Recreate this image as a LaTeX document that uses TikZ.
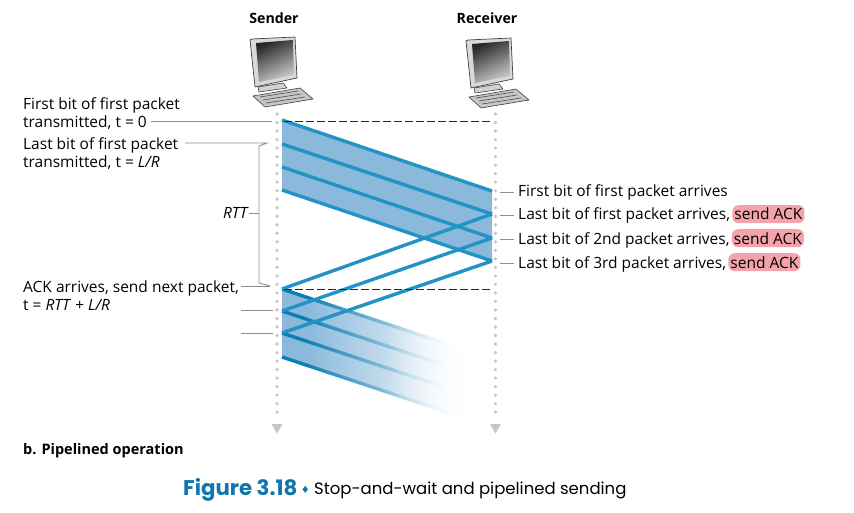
\documentclass[tikz,border=0pt]{standalone}
\usepackage{fontspec}
\setmainfont{Open Sans}
\newfontfamily\capfont{Poppins}
\newfontfamily\symfont{DejaVu Sans}
\usetikzlibrary{positioning, fadings}
\definecolor{bandblue}{HTML}{8AB9DC}
\definecolor{linkblue}{HTML}{2193C4}
\definecolor{deepblue}{HTML}{0C7DB5}
\definecolor{dotgray}{HTML}{C4C6C8}
\definecolor{tickgray}{HTML}{8C8E90}
\definecolor{ackpink}{HTML}{F4A3AA}
\definecolor{capblue}{HTML}{0F76AE}
\tikzfading[name=fadeout, left color=transparent!100, right color=transparent!0]
\tikzset{
timeline/.style={dotgray, line width=3.6pt, line cap=round, dash pattern=on 0pt off 8.52pt},
tickline/.style={tickgray, line width=0.9pt},
textlabel/.style={inner sep=0pt, anchor=west, align=left, font=\fontsize{15.5}{18}\selectfont},
arrlabel/.style={inner sep=0pt, anchor=base west, font=\fontsize{15.5}{18}\selectfont},
ack/.style={fill=ackpink, rounded corners=6pt, inner xsep=2pt, inner ysep=3pt, font=\fontsize{15.5}{18}\selectfont},
headlabel/.style={font=\bfseries\fontsize{14.2}{17}\selectfont},
packet/.style={linkblue, line width=3.4pt},
computer/.pic={
  \filldraw[fill=gray!45, draw=black!75, line width=0.6pt] (-24,96) -- (23,88) -- (36,99) -- (-12,107) -- cycle; % keyboard
  \draw[black!70, line width=0.6pt] (-17,97) -- (21,91) (-14,100) -- (24,94) (-11,103) -- (28,97);
  \filldraw[fill=gray!35, draw=black!75, line width=0.6pt] (-19,87) -- (-18,92) -- (10,88) -- (6,83) -- cycle; % stand
  \filldraw[fill=gray!30, draw=black!75, line width=0.7pt] (-27,40) -- (-25,39) -- (18,37) -- (20,78) -- (-22,87) -- cycle; % monitor
  \shade[left color=black!85, middle color=black!50, right color=black!20, shading angle=25] (-21,43) -- (16,40) -- (17,75) -- (-18,82) -- cycle;
},
}

\begin{document}
\begin{tikzpicture}[x=1pt, y=-1pt]
  \useasboundingbox (0,0) rectangle (854,513);

  % end points of the first window
  \coordinate (s0) at (282,120);
  \coordinate (s1) at (282,144);
  \coordinate (s2) at (282,167);
  \coordinate (s3) at (282,190);
  \coordinate (r0) at (492,191);
  \coordinate (r1) at (492,214);
  \coordinate (r2) at (492,238);
  \coordinate (r3) at (492,261);
  % end points of the second window
  \coordinate (n0) at (282,289);
  \coordinate (n1) at (282,311);
  \coordinate (n2) at (282,333);
  \coordinate (n3) at (282,357);
  \coordinate (e0) at (468,351);
  \coordinate (e1) at (468,373);
  \coordinate (e2) at (468,395);
  \coordinate (e3) at (468,419);

  \pic (sendpc) at (277,0) {computer};
  \pic (recvpc) at (493,1) {computer};
  \node[headlabel] (sender) at (274,18) {Sender};
  \node[headlabel] (receiver) at (487,18) {Receiver};

  \fill[bandblue] (s0) -- (r0) -- (r3) -- (s3) -- cycle;
  \foreach \a/\b in {s0/r0, s1/r1, s2/r2, s3/r3}
    \draw[packet] (\a) -- (\b);

  \fill[bandblue] (n0) -- (e0) -- (e3) -- (n3) -- cycle;
  \foreach \a/\b in {n0/e0, n1/e1, n2/e2, n3/e3}
    \draw[deepblue, line width=3.4pt] (\a) -- (\b);
  \fill[white, path fading=fadeout] (305,265) rectangle (466,432);
  \fill[white, path fading=fadeout] (385,265) rectangle (466,432);
  \fill[white] (465.5,265) rectangle (480,432);

  \foreach \a/\b in {r1/n0, r2/n1, r3/n2}
    \draw[packet] (\a) -- (\b);

  \coordinate (sendtop) at (277,114);
  \coordinate (sendend) at (277,420);
  \coordinate (recvtop) at (495.5,114);
  \coordinate (recvend) at (495.5,420);
  \draw[timeline] (sendtop) -- (sendend);
  \draw[timeline] (recvtop) -- (recvend);
  \foreach \a in {sendend, recvend}
    \fill[dotgray] (\a) ++(-5.5,4) -- ++(11,0) -- ++(-5.5,9.5) -- cycle;

  \draw[black!85, dash pattern=on 7.5pt off 3.5pt, line width=0.9pt] (284,121) -- (490,121);
  \draw[black!85, dash pattern=on 7.5pt off 3.5pt, line width=0.9pt] (284,289.5) -- (490,289.5);

  % left labels
  \node[textlabel] (firstsent) at (23,113.5) {First bit of first packet\\transmitted, t = 0};
  \node[textlabel] (lastsent) at (23,153.5) {Last bit of first packet\\transmitted, t = \textit{L/R}};
  \node[textlabel] (acksent) at (23,296) {ACK arrives, send next packet,\\t = \textit{RTT} + \textit{L/R}};
  \node[textlabel, anchor=east] (rtt) at (249,213) {\textit{RTT}};

  \coordinate (firstend) at (151,121);
  \coordinate (firstdot) at (272,121);
  \coordinate (lastend) at (185,143);
  \coordinate (lastdot) at (267,143);
  \coordinate (ackend) at (241,286);
  \coordinate (ackdot) at (270,286);
  \coordinate (braceA) at (259,146);
  \coordinate (braceB) at (259,283);
  \coordinate (braceM) at (259,213);
  \coordinate (tickA) at (241,310);
  \coordinate (tickAdot) at (273,310);
  \coordinate (tickB) at (241,333);
  \coordinate (tickBdot) at (273,333);
  \draw[tickline] (firstend) -- (firstdot);
  \draw[tickline] (lastend) -- (lastdot) -- (braceA) -- (braceB) -- (ackdot);
  \draw[tickline] (ackend) -- (ackdot);
  \draw[tickline] (rtt) -- (braceM);
  \draw[tickline] (tickA) -- (tickAdot);
  \draw[tickline] (tickB) -- (tickBdot);

  % right labels
  \node[arrlabel] (arr0) at (518,197) {First bit of first packet arrives};
  \node[arrlabel] (arr1) at (518,220) {Last bit of first packet arrives,};
  \node[arrlabel] (arr2) at (518,244) {Last bit of 2nd packet arrives,};
  \node[arrlabel] (arr3) at (518,268) {Last bit of 3rd packet arrives,};
  \node[ack, base right=2pt of arr1] (ack1) {send ACK};
  \node[ack, base right=2pt of arr2] (ack2) {send ACK};
  \node[ack, base right=2pt of arr3] (ack3) {send ACK};
  \foreach \n in {0,...,3}
    \draw[tickline] (arr\n.west) ++(-4,0) coordinate (t\n) -- ++(-14,0);

  % bottom text
  \node[textlabel, font=\bfseries\fontsize{14.5}{17}\selectfont] (part) at (23,451) {b. Pipelined operation};
  \node[inner sep=0pt, anchor=west, text=capblue, font=\capfont\bfseries\fontsize{21.3}{24}\selectfont] (figno) at (183,490) {Figure 3.18};
  \node[inner sep=0pt, right=3pt of figno, text=capblue, font=\symfont\fontsize{10}{12}\selectfont] (figmark) {♦};
  \node[inner sep=0pt, right=4pt of figmark, font=\capfont\fontsize{16.5}{20}\selectfont] (figcap) {Stop-and-wait and pipelined sending};
\end{tikzpicture}
\end{document}
